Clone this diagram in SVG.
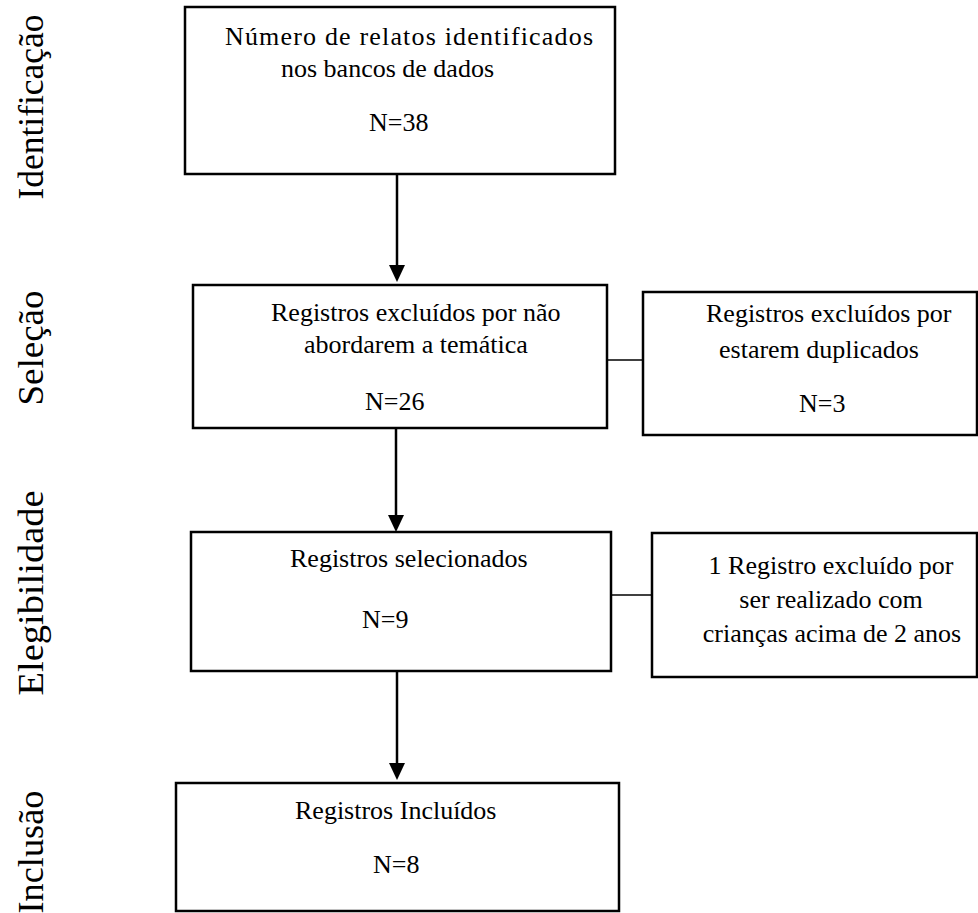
<svg xmlns="http://www.w3.org/2000/svg" width="978" height="913" viewBox="0 0 978 913">
<defs>
<style>
.box{fill:#fff;stroke:#000;stroke-width:2.5}
.t{font-family:"Liberation Serif","Times New Roman",serif;font-size:26px;fill:#000}
.side{font-family:"Liberation Serif","Times New Roman",serif;font-size:36px;fill:#000;text-anchor:middle}
.arr{stroke:#000;stroke-width:2.5;fill:none}
.ln{stroke:#000;stroke-width:1.5;fill:none}
</style>
<marker id="ah" markerUnits="userSpaceOnUse" markerWidth="16" markerHeight="18" refX="8" refY="17" orient="auto-start-reverse" viewBox="0 0 16 18">
<path d="M0,0 L16,0 L8,17 Z" fill="#000" transform="rotate(0)"/>
</marker>
</defs>
<rect width="978" height="913" fill="#fff"/>
<g id="labels">
<text class="side" transform="translate(43,107) rotate(-90)" textLength="185" lengthAdjust="spacingAndGlyphs">Identificação</text>
<text class="side" transform="translate(43,348) rotate(-90)" textLength="115" lengthAdjust="spacingAndGlyphs">Seleção</text>
<text class="side" transform="translate(43,593) rotate(-90)" textLength="205" lengthAdjust="spacingAndGlyphs">Elegibilidade</text>
<text class="side" transform="translate(43,852) rotate(-90)" textLength="123" lengthAdjust="spacingAndGlyphs">Inclusão</text>
</g>
<g id="connectors">
<line class="arr" x1="397" y1="174" x2="397" y2="265"/>
<path d="M389,265 L405,265 L397,282 Z" fill="#000"/>
<line class="arr" x1="396" y1="428" x2="396" y2="515"/>
<path d="M388,515 L404,515 L396,532 Z" fill="#000"/>
<line class="arr" x1="397" y1="671" x2="397" y2="763"/>
<path d="M389,763 L405,763 L397,780 Z" fill="#000"/>
<line class="ln" x1="607" y1="360" x2="643" y2="360"/>
<line class="ln" x1="611" y1="595" x2="652" y2="595"/>
</g>
<g id="n1">
<rect class="box" x="185" y="7" width="430" height="167"/>
<text class="t" x="225" y="45" textLength="368" lengthAdjust="spacing">Número de relatos identificados</text>
<text class="t" x="281" y="77">nos bancos de dados</text>
<text class="t" x="369" y="131">N=38</text>
</g>
<g id="n2">
<rect class="box" x="193" y="285" width="414" height="143"/>
<text class="t" x="271" y="321">Registros excluídos por não</text>
<text class="t" x="304" y="353">abordarem a temática</text>
<text class="t" x="365" y="410">N=26</text>
</g>
<g id="n3">
<rect class="box" x="643" y="292" width="334" height="143"/>
<text class="t" x="706" y="322">Registros excluídos por</text>
<text class="t" x="719" y="358">estarem duplicados</text>
<text class="t" x="799" y="412">N=3</text>
</g>
<g id="n4">
<rect class="box" x="191" y="532" width="420" height="139"/>
<text class="t" x="290" y="567">Registros selecionados</text>
<text class="t" x="362" y="628">N=9</text>
</g>
<g id="n5">
<rect class="box" x="652" y="533" width="325" height="144"/>
<text class="t" x="831" y="574" text-anchor="middle">1 Registro excluído por</text>
<text class="t" x="831" y="608" text-anchor="middle">ser realizado com</text>
<text class="t" x="832" y="642" text-anchor="middle">crianças acima de 2 anos</text>
</g>
<g id="n6">
<rect class="box" x="176" y="783" width="443" height="128"/>
<text class="t" x="295" y="819">Registros Incluídos</text>
<text class="t" x="373" y="873">N=8</text>
</g>
</svg>
